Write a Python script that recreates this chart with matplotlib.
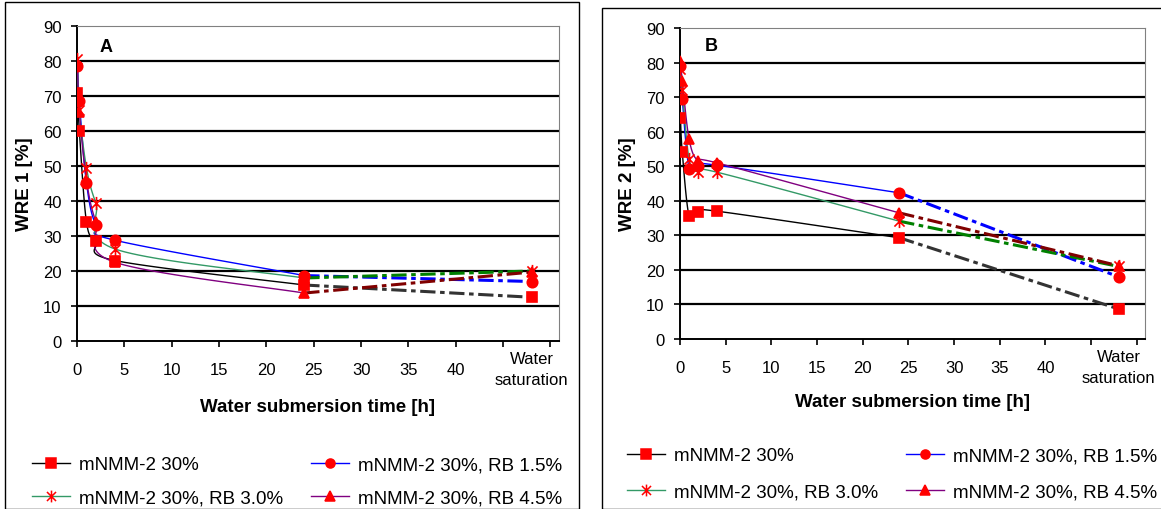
"""
WRE 1 / WRE 2 versus water submersion time, two Excel-style panels (A and B)
"""

import numpy as np
import matplotlib
matplotlib.use("Agg")
import matplotlib.pyplot as plt
from matplotlib.patches import Rectangle
from matplotlib.path import Path
from matplotlib.lines import Line2D

plt.rcParams['font.family'] = ['Liberation Sans', 'DejaVu Sans']

# measurement times [h]; last point is water saturation, drawn at x = 48
times = [0.05, 0.25, 1, 2, 4, 24]
t_sat = 48

labels = ['mNMM-2 30%', 'mNMM-2 30%, RB 1.5%',
          'mNMM-2 30%, RB 3.0%', 'mNMM-2 30%, RB 4.5%']

# panel A (WRE 1)
wre1_rb00 = [71, 60, 34, 28.5, 23, 16]
wre1_rb15 = [78.5, 68.5, 45.2, 33.2, 28.8, 18.7]
wre1_rb30 = [80.5, 66, 49.5, 39.3, 26.3, 18]
wre1_rb45 = [79.5, 65.5, 46, 34, 22.5, 13.7]
wre1_sat = [12.5, 17, 20, 19.7]

# panel B (WRE 2)
wre2_rb00 = [64, 54, 35.5, 36.7, 37, 29.3]
wre2_rb15 = [79, 69.5, 49.3, 50.2, 50.3, 42.3]
wre2_rb30 = [78, 72, 52, 48.3, 48.3, 34.1]
wre2_rb45 = [80.5, 74.8, 57.8, 51.5, 51, 36.5]
wre2_sat = [8.7, 18, 21, 21.2]

xticks = [0, 5, 10, 15, 20, 25, 30, 35, 40, 45, 50]
xticklabels = ['0', '5', '10', '15', '20', '25', '30', '35', '40', '', '']

# Excel "star" marker: an X with a vertical bar
star = Path([(-1, -1), (1, 1), (-1, 1), (1, -1), (0, -1.3), (0, 1.3)],
            [Path.MOVETO, Path.LINETO, Path.MOVETO, Path.LINETO,
             Path.MOVETO, Path.LINETO])

line_cols = ['#000000', '#0000FF', '#339966', '#800080']
dash_cols = ['#333333', '#0000FF', '#008000', '#800000']
markers = ['s', 'o', star, '^']
msizes = [7.5, 7.5, 9.5, 7.5]


def smooth(x, y, sx=9.4, sy=3.5, n=25):
    """Excel-like smoothed line (Bezier through the points, in pixel scale)"""
    P = np.column_stack([np.asarray(x, float) * sx, np.asarray(y, float) * sy])
    out = []
    t = np.linspace(0, 1, n)[:, None]
    for i in range(len(P) - 1):
        p0 = P[i - 1] if i > 0 else P[i]
        p1, p2 = P[i], P[i + 1]
        p3 = P[i + 2] if i + 2 < len(P) else P[i + 1]
        c1 = p1 + (p2 - p0) / 6
        c2 = p2 - (p3 - p1) / 6
        seg = ((1 - t) ** 3) * p1 + 3 * ((1 - t) ** 2) * t * c1 \
            + 3 * (1 - t) * t ** 2 * c2 + t ** 3 * p2
        out.append(seg if i == 0 else seg[1:])
    out = np.vstack(out)
    return out[:, 0] / sx, out[:, 1] / sy


W, H = 1161, 510
fig = plt.figure(figsize=(W / 100, H / 100), dpi=100)

# chart-area frames
fig.patches.append(Rectangle((5 / W, 0), 574 / W, (H - 8) / H + 0.01,
                             transform=fig.transFigure, fill=False,
                             edgecolor='black', lw=1.0, clip_on=False))
fig.patches.append(Rectangle((602 / W, 0), 570 / W, (H - 9) / H,
                             transform=fig.transFigure, fill=False,
                             edgecolor='black', lw=1.0, clip_on=False))


def make_panel(rect, series, sat, letter, ylab, letter_pos, leg_anchor,
               xlabelpad, legspacing):
    ax = fig.add_axes(rect)
    for k, vals in enumerate(series):
        xs, ys = smooth(times, vals)
        ax.plot(xs, ys, color=line_cols[k], lw=1.0, zorder=3)
        ax.plot([times[-1], t_sat], [vals[-1], sat[k]], color=dash_cols[k],
                lw=2.2, dashes=(5, 1.5, 1.5, 1.5), zorder=3)
    for k, vals in enumerate(series):
        ax.plot(times + [t_sat], vals + [sat[k]], ls='none',
                marker=markers[k], ms=msizes[k], color='#FF0000',
                mec='#FF0000', mew=1.2, zorder=4)

    ax.set_xlim(0, 50.9)
    ax.set_ylim(0, 90)
    ax.set_yticks(range(0, 100, 10))
    ax.set_xticks(xticks)
    ax.set_xticklabels(xticklabels)
    for v in range(10, 90, 10):
        ax.axhline(v, color='black', lw=1.6, zorder=1)
    ax.spines['top'].set_color('#808080')
    ax.spines['right'].set_color('#808080')
    ax.spines['left'].set_linewidth(1.4)
    ax.spines['bottom'].set_linewidth(1.4)
    ax.tick_params(direction='out', length=4, width=1.2, labelsize=12)
    ax.tick_params(axis='y', pad=7)
    ax.tick_params(axis='x', pad=11)
    ax.text(t_sat, -3.0, 'Water\nsaturation', ha='center', va='top',
            fontsize=12, linespacing=1.45)
    ax.set_xlabel('Water submersion time [h]', fontsize=13.5,
                  fontweight='bold', labelpad=xlabelpad)
    ax.set_ylabel(ylab, fontsize=13.5, fontweight='bold', labelpad=7)
    ax.text(letter_pos[0], letter_pos[1], letter, transform=ax.transAxes,
            fontsize=13, fontweight='bold', ha='center', va='center')

    handles = [Line2D([], [], color=line_cols[k], lw=1.0, marker=markers[k],
                      ms=msizes[k] - 1, mfc='#FF0000', mec='#FF0000', mew=1.1)
               for k in range(4)]
    order = [0, 2, 1, 3]   # legend fills by column; reference reads by row
    fig.legend([handles[i] for i in order], [labels[i] for i in order],
               ncol=2, loc='upper left', bbox_to_anchor=leg_anchor,
               frameon=False, fontsize=13.5, borderpad=0, borderaxespad=0,
               handlelength=2.0, handletextpad=0.5, columnspacing=1.5,
               labelspacing=legspacing)
    return ax


make_panel([77 / W, (H - 342) / H, 482 / W, 315 / H],
           [wre1_rb00, wre1_rb15, wre1_rb30, wre1_rb45], wre1_sat,
           'A', 'WRE 1 [%]', (0.06, 0.935), (32 / W, (H - 457) / H), 15, 0.85)
make_panel([680 / W, (H - 340) / H, 465 / W, 311 / H],
           [wre2_rb00, wre2_rb15, wre2_rb30, wre2_rb45], wre2_sat,
           'B', 'WRE 2 [%]', (0.067, 0.945), (627 / W, (H - 448) / H), 13, 1.05)

fig.savefig('out.png', dpi=100)
